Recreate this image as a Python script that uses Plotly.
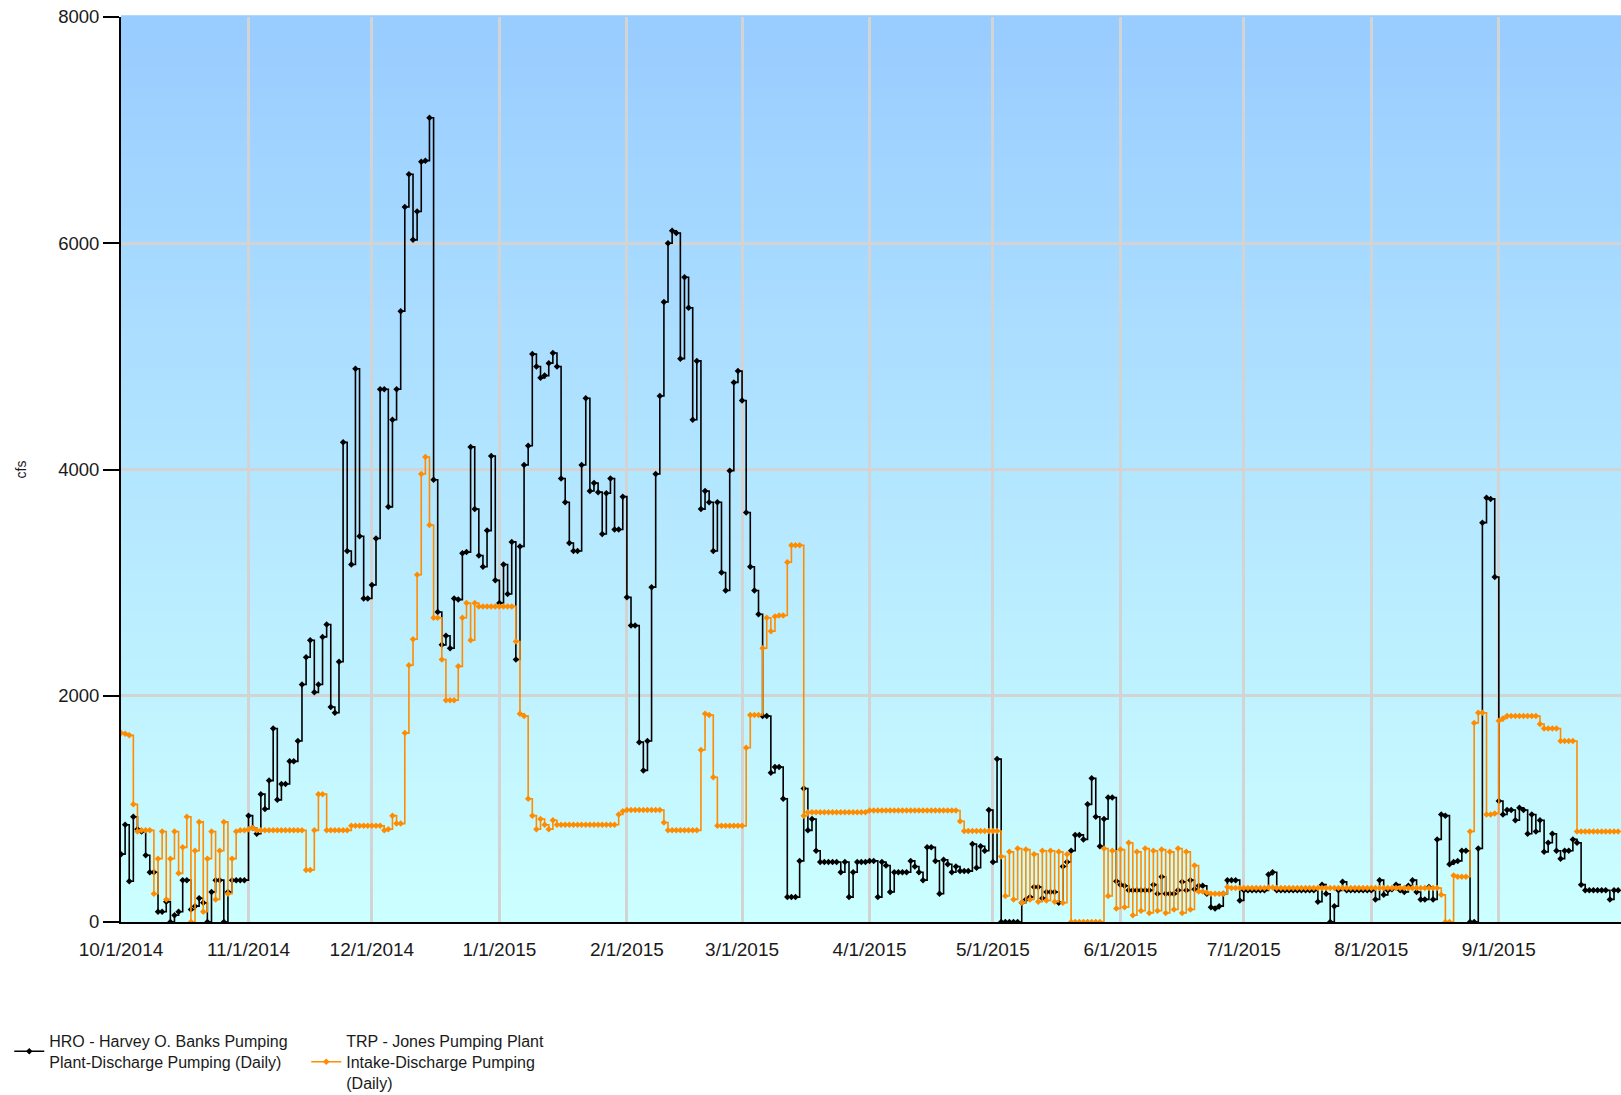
import pandas as pd
import plotly.graph_objects as go

# ---------------- data (daily values, cfs) ----------------
dates = pd.date_range("2014-10-01", "2015-09-30", freq="D")

hro_oct = [600, 860, 360, 930, 820, 800, 590, 440, 440, 90, 90, 180, 0, 60, 90, 370, 370, 110, 140, 210,
           170, 0, 265, 370, 370, 0, 265, 370, 370, 370, 370]
hro_nov = [940, 830, 780, 1130, 1000, 1250, 1710, 1080, 1220, 1220, 1420, 1420, 1600, 2100, 2340, 2490,
           2030, 2100, 2520, 2630, 1900, 1850, 2300, 4240, 3280, 3160, 4890, 3410, 2860, 2860]
hro_dec = [2980, 3390, 4710, 4710, 3670, 4440, 4710, 5400, 6320, 6610, 6030, 6280, 6720, 6730, 7110, 3910,
           2740, 2450, 2530, 2420, 2860, 2850, 3260, 3270, 4200, 3650, 3240, 3140, 3460, 4120, 3020]
hro_jan = [2820, 3160, 2900, 3360, 2320, 3320, 4040, 4210, 5020, 4910, 4810, 4830, 4940, 5030, 4910, 3920,
           3710, 3350, 3280, 3280, 4040, 4630, 3810, 3880, 3800, 3430, 3790, 3920, 3470, 3470, 3760]
hro_feb = [2870, 2620, 2620, 1590, 1340, 1600, 2960, 3960, 4650, 5480, 6000, 6110, 6090, 4980, 5700, 5430,
           4440, 4960, 3650, 3810, 3710, 3280, 3710, 3090, 2930, 3990, 4770, 4870]
hro_mar = [4610, 3620, 3140, 2930, 2720, 1820, 1820, 1320, 1370, 1370, 1090, 220, 220, 220, 540, 1180,
           810, 910, 630, 530, 530, 530, 530, 530, 440, 530, 220, 440, 530, 530, 530]
hro_apr = [540, 540, 220, 530, 500, 265, 440, 440, 440, 440, 540, 490, 440, 370, 660, 660, 540, 250, 550,
           510, 440, 490, 450, 450, 450, 690, 480, 670, 630, 990]
hro_may = [530, 1440, 0, 0, 0, 0, 0, 170, 200, 220, 310, 310, 210, 265, 265, 265, 170, 490, 530, 630, 770,
           770, 730, 1040, 1270, 930, 670, 910, 1100, 1100, 360]
hro_jun = [330, 320, 280, 280, 280, 280, 280, 280, 330, 250, 400, 250, 250, 250, 280, 355, 280, 370, 290,
           320, 320, 250, 130, 120, 140, 250, 370, 370, 370, 190]
hro_jul = [280, 280, 280, 280, 280, 280, 420, 440, 280, 280, 280, 280, 280, 280, 280, 280, 280, 280, 180,
           330, 250, 0, 140, 280, 355, 280, 280, 280, 280, 280, 280]
hro_aug = [280, 200, 370, 240, 280, 290, 330, 280, 265, 320, 370, 265, 200, 200, 310, 200, 730, 950, 940,
           510, 530, 540, 630, 630, 0, 0, 650, 3530, 3750, 3740, 3050]
hro_sep = [1070, 950, 990, 990, 900, 1010, 990, 780, 950, 800, 900, 620, 700, 780, 630, 560, 630, 630, 730,
           700, 330, 280, 280, 280, 280, 280, 280, 200, 280, 280]

trp_oct = [1670, 1665, 1650, 1040, 800, 810, 810, 810, 250, 560, 800, 200, 560, 800, 430, 660, 930, 0, 630,
           885, 90, 560, 800, 200, 630, 885, 250, 560, 800, 810, 810]
trp_nov = [820, 830, 810, 810, 810, 810, 810, 810, 810, 810, 810, 810, 810, 810, 460, 460, 810, 1130, 1130,
           810, 810, 810, 810, 810, 810, 850, 850, 850, 850, 850]
trp_dec = [850, 850, 850, 810, 820, 940, 870, 870, 1670, 2270, 2500, 3070, 3960, 4110, 3510, 2690, 2690,
           2320, 1960, 1960, 1960, 2260, 2690, 2820, 2490, 2820, 2790, 2790, 2790, 2790, 2790]
trp_jan = [2790, 2790, 2790, 2790, 2480, 1840, 1820, 1090, 940, 820, 910, 860, 820, 900, 860, 860, 860, 860,
           860, 860, 860, 860, 860, 860, 860, 860, 860, 860, 860, 950, 980]
trp_feb = [990, 990, 990, 990, 990, 990, 990, 990, 990, 880, 810, 810, 810, 810, 810, 810, 810, 810, 1520,
           1840, 1830, 1280, 850, 850, 850, 850, 850, 850]
trp_mar = [850, 1540, 1830, 1830, 1830, 2420, 2690, 2570, 2700, 2710, 2710, 3180, 3330, 3330, 3330, 940,
           970, 970, 970, 970, 970, 970, 970, 970, 970, 970, 970, 970, 970, 970, 970]
trp_apr = [985, 985, 985, 985, 985, 985, 985, 985, 985, 985, 985, 985, 985, 985, 985, 985, 985, 985, 985,
           985, 985, 985, 890, 805, 805, 805, 805, 805, 805, 805]
trp_may = [805, 805, 580, 230, 620, 200, 650, 170, 640, 200, 600, 180, 630, 190, 630, 180, 620, 170, 600,
           0, 0, 0, 0, 0, 0, 0, 0, 650, 230, 630, 120]
trp_jun = [640, 130, 700, 60, 620, 100, 650, 80, 630, 100, 640, 80, 620, 110, 650, 80, 620, 110, 500, 270,
           270, 260, 250, 250, 250, 250, 310, 300, 300, 300]
trp_jul = [300, 300, 300, 300, 300, 300, 305, 305, 300, 300, 300, 300, 300, 300, 300, 300, 300, 300, 300,
           300, 300, 300, 300, 300, 300, 300, 300, 300, 300, 300, 300]
trp_aug = [300, 300, 300, 300, 300, 300, 300, 300, 300, 300, 300, 300, 300, 300, 300, 300, 300, 240, 0, 0,
           410, 400, 400, 400, 800, 1760, 1850, 1850, 950, 950, 960]
trp_sep = [1780, 1800, 1820, 1820, 1820, 1820, 1820, 1820, 1820, 1820, 1750, 1710, 1710, 1710, 1710, 1600,
           1600, 1600, 1600, 800, 800, 800, 800, 800, 800, 800, 800, 800, 800, 800]

hro = (hro_oct + hro_nov + hro_dec + hro_jan + hro_feb + hro_mar + hro_apr + hro_may + hro_jun
       + hro_jul + hro_aug + hro_sep)
trp = (trp_oct + trp_nov + trp_dec + trp_jan + trp_feb + trp_mar + trp_apr + trp_may + trp_jun
       + trp_jul + trp_aug + trp_sep)

tick_dates = ["2014-10-01", "2014-11-01", "2014-12-01", "2015-01-01", "2015-02-01", "2015-03-01",
              "2015-04-01", "2015-05-01", "2015-06-01", "2015-07-01", "2015-08-01", "2015-09-01"]
tick_labels = ["10/1/2014", "11/1/2014", "12/1/2014", "1/1/2015", "2/1/2015", "3/1/2015",
               "4/1/2015", "5/1/2015", "6/1/2015", "7/1/2015", "8/1/2015", "9/1/2015"]

name_hro = "HRO - Harvey O. Banks Pumping<br>Plant-Discharge Pumping (Daily)"
name_trp = "TRP - Jones Pumping Plant<br>Intake-Discharge Pumping<br>(Daily)"

FONT = "Liberation Sans, Arial, sans-serif"

fig = go.Figure()
fig.add_trace(go.Scatter(
    x=dates, y=hro, name=name_hro, mode="lines+markers",
    line=dict(shape="hv", color="black", width=1.6),
    marker=dict(symbol="diamond", size=5, color="black"),
))
fig.add_trace(go.Scatter(
    x=dates, y=trp, name=name_trp, mode="lines+markers",
    line=dict(shape="hv", color="#FF8C00", width=1.6),
    marker=dict(symbol="diamond", size=5, color="#FF8C00"),
))

# vertical gradient background of plot area
n = 90
top = (153, 204, 255)
bot = (204, 255, 255)
shapes = []
for i in range(n):
    t = i / (n - 1)
    c = tuple(round(bot[k] + (top[k] - bot[k]) * t) for k in range(3))
    shapes.append(dict(type="rect", xref="paper", yref="paper", x0=0, x1=1,
                       y0=i / n, y1=(i + 1) / n + 0.002, layer="below",
                       fillcolor="rgb(%d,%d,%d)" % c, line=dict(width=0)))

fig.update_layout(
    width=1621, height=1110,
    margin=dict(l=121, r=0, t=17, b=188),
    paper_bgcolor="white",
    plot_bgcolor="rgba(0,0,0,0)",
    shapes=shapes,
    font=dict(family=FONT, color="#1a1a1a"),
    showlegend=True,
    legend=dict(orientation="h", x=-0.0745, y=-0.1127, xanchor="left", yanchor="top",
                font=dict(size=16, family=FONT, color="#1a1a1a"),
                bgcolor="rgba(0,0,0,0)", itemwidth=30, tracegroupgap=0,
                entrywidth=252, entrywidthmode="pixels"),
    xaxis=dict(
        type="date",
        range=["2014-10-01", "2015-09-30 16:48"],
        tickvals=tick_dates, ticktext=tick_labels,
        showgrid=True, gridcolor="#D3D3D3", gridwidth=2.5,
        showline=True, linecolor="black", linewidth=2,
        ticks="outside", ticklen=9, tickcolor="rgba(0,0,0,0)",
        tickfont=dict(size=19, family=FONT, color="#1a1a1a"),
        zeroline=False, automargin=False, ticklabeloverflow="allow",
    ),
    yaxis=dict(
        range=[0, 8000], tickvals=[0, 2000, 4000, 6000, 8000],
        showgrid=True, gridcolor="#D3D3D3", gridwidth=2.5,
        showline=True, linecolor="black", linewidth=2,
        ticks="outside", ticklen=16, tickwidth=1.5, tickcolor="black",
        tickfont=dict(size=18.5, family=FONT, color="#1a1a1a"),
        title=dict(text="cfs", font=dict(size=14, family=FONT, color="#1a1a1a"), standoff=28),
        zeroline=False, automargin=False, ticklabeloverflow="allow",
    ),
)

fig.write_html("out.html", config={"displayModeBar": False},
               post_script="document.body.style.margin='0px';")
